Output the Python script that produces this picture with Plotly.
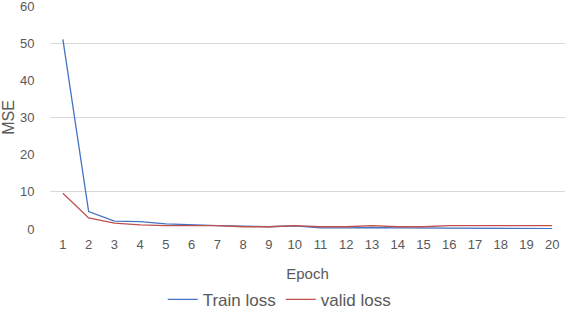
import plotly.graph_objects as go

epochs = [str(i) for i in range(1, 21)]
train_loss = [51.0, 4.7, 2.1, 2.0, 1.4, 1.1, 0.9, 0.75, 0.6, 0.85, 0.3, 0.3, 0.4, 0.3, 0.3, 0.3, 0.1, 0.1, 0.2, 0.1]
valid_loss = [9.6, 3.0, 1.6, 1.1, 0.9, 0.9, 0.9, 0.6, 0.6, 0.9, 0.6, 0.6, 0.9, 0.6, 0.6, 0.9, 0.9, 0.8, 0.9, 0.9]
y_ticks = [0, 10, 20, 30, 40, 50, 60]
grid_vals = [10, 30, 50]

FONT = "Liberation Sans"
GRAY = "#595959"

fig = go.Figure()
fig.add_trace(go.Scatter(x=epochs, y=train_loss, mode="lines", name="Train loss",
                         line=dict(color="#4472C4", width=1.3)))
fig.add_trace(go.Scatter(x=epochs, y=valid_loss, mode="lines", name="valid loss",
                         line=dict(color="#C0504D", width=1.3)))
# invisible trace to activate the grid axis
fig.add_trace(go.Scatter(x=epochs[:1], y=[None], yaxis="y2", showlegend=False, hoverinfo="skip"))

fig.update_layout(
    width=568, height=310,
    margin=dict(l=50, r=3, t=6, b=81, autoexpand=False),
    paper_bgcolor="white", plot_bgcolor="white",
    font=dict(family=FONT, color=GRAY, size=13),
    xaxis=dict(type="category", range=[-0.5, 19.5], showgrid=False, showline=False,
               ticks="", zeroline=False, automargin=False, ticklabelstandoff=6,
               title=dict(text="Epoch", font=dict(size=15, color=GRAY), standoff=17),
               tickfont=dict(size=13, color=GRAY)),
    yaxis=dict(range=[0, 60], tickvals=y_ticks, showgrid=False, zeroline=False,
               showline=False, ticks="outside", ticklen=12, tickcolor="rgba(0,0,0,0)",
               automargin=False, ticklabeloverflow="allow",
               title=dict(text="MSE", font=dict(size=16, color=GRAY), standoff=2),
               tickfont=dict(size=13, color=GRAY)),
    yaxis2=dict(range=[0, 60], tickvals=grid_vals, showgrid=True, gridcolor="#D9D9D9",
                gridwidth=1, showticklabels=False, overlaying="y", zeroline=False,
                automargin=False),
    legend=dict(orientation="h", x=0.445, xanchor="center", y=-0.318, yanchor="middle",
                font=dict(size=17, color=GRAY), itemwidth=30, tracegroupgap=0),
)

fig.write_html("out.html", config={"displayModeBar": False},
               post_script="document.body.style.margin='0';document.body.style.overflow='hidden';")
